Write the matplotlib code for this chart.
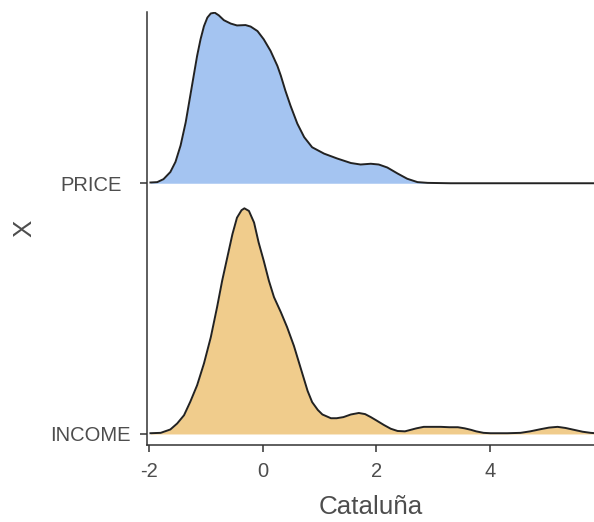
import matplotlib
matplotlib.use("Agg")
import matplotlib.pyplot as plt
import matplotlib.transforms as mtransforms
import numpy as np

plt.rcParams['font.family'] = ['Liberation Sans', 'DejaVu Sans']

# ridge categories (bottom to top)
groups = ["INCOME", "PRICE"]

# density curves
price_x = [-1.97, -1.85, -1.74, -1.62, -1.53, -1.44, -1.35, -1.28, -1.21, -1.15,
           -1.09, -1.03, -0.97, -0.91, -0.84, -0.77, -0.68, -0.56, -0.45, -0.30,
           -0.21, -0.09, 0.02, 0.14, 0.26, 0.32, 0.40, 0.49, 0.61, 0.73,
           0.87, 1.08, 1.31, 1.55, 1.72, 1.90, 2.04, 2.19, 2.37, 2.54,
           2.72, 2.90, 3.30, 5.85]
price_d = [0.002, 0.003, 0.011, 0.030, 0.057, 0.101, 0.163, 0.225, 0.287, 0.340,
           0.384, 0.419, 0.442, 0.453, 0.455, 0.448, 0.435, 0.426, 0.421, 0.422,
           0.418, 0.406, 0.384, 0.353, 0.313, 0.287, 0.247, 0.207, 0.159, 0.123,
           0.096, 0.079, 0.066, 0.054, 0.050, 0.052, 0.050, 0.042, 0.026, 0.012,
           0.003, 0.001, 0.000, 0.000]

income_x = [-1.97, -1.79, -1.62, -1.50, -1.38, -1.27, -1.15, -1.03, -0.91, -0.80,
            -0.71, -0.62, -0.53, -0.45, -0.37, -0.32, -0.24, -0.15, -0.07, 0.02,
            0.11, 0.20, 0.32, 0.43, 0.55, 0.62, 0.70, 0.79, 0.87, 0.97,
            1.05, 1.20, 1.30, 1.42, 1.55, 1.69, 1.80, 1.90, 2.00, 2.13,
            2.25, 2.37, 2.50, 2.60, 2.70, 2.83, 3.00, 3.13, 3.28, 3.43,
            3.55, 3.66, 3.75, 3.88, 4.00, 4.30, 4.53, 4.70, 4.89, 5.03,
            5.18, 5.32, 5.47, 5.62, 5.76, 5.85]
income_d = [0.002, 0.003, 0.012, 0.028, 0.050, 0.086, 0.130, 0.188, 0.258, 0.338,
            0.409, 0.471, 0.533, 0.577, 0.597, 0.602, 0.595, 0.564, 0.511, 0.462,
            0.409, 0.365, 0.325, 0.285, 0.235, 0.200, 0.160, 0.115, 0.085, 0.064,
            0.052, 0.042, 0.042, 0.045, 0.052, 0.056, 0.053, 0.045, 0.036, 0.024,
            0.014, 0.008, 0.007, 0.011, 0.015, 0.019, 0.019, 0.019, 0.018, 0.018,
            0.015, 0.011, 0.007, 0.003, 0.002, 0.002, 0.003, 0.007, 0.013, 0.017,
            0.019, 0.016, 0.011, 0.006, 0.003, 0.002]

colors = {"INCOME": "#F0CC8C", "PRICE": "#A4C4F1"}
curves = {"INCOME": (income_x, income_d), "PRICE": (price_x, price_d)}

scale = 0.9
dmax = max(max(price_d), max(income_d))

fig = plt.figure(figsize=(5.94, 5.22), dpi=100)
ax = fig.add_axes([0.2475, 0.1475, 0.7525, 0.8295])

# draw top ridge first so lower ridges sit on top
for i, g in reversed(list(enumerate(groups))):
    base = i + 1
    x, d = curves[g]
    y = base + np.array(d) / dmax * scale
    ax.fill_between(x, base, y, color=colors[g], linewidth=0, zorder=2 + (1 - i))
    ax.plot(x, y, color="#222222", linewidth=1.4, zorder=3 + (1 - i),
            solid_joinstyle="round")

ax.set_xlim(-2.03, 5.82)
ax.set_ylim(0.956, 2.683)
ax.set_xticks([-2, 0, 2, 4])
ax.set_xticklabels(["-2", "0", "2", "4"])
ax.set_yticks([1, 2])
ax.set_yticklabels(groups)

for side in ["top", "right"]:
    ax.spines[side].set_visible(False)
for side in ["left", "bottom"]:
    ax.spines[side].set_color("#333333")
    ax.spines[side].set_linewidth(1.1)

ax.tick_params(axis="both", length=5, width=1.1, color="#333333",
               labelsize=14.5, labelcolor="#4D4D4D", pad=7)

# the PRICE label sits a little further from its tick
price_lab = ax.get_yticklabels()[1]
price_lab.set_transform(price_lab.get_transform() +
                        mtransforms.ScaledTranslation(-9 / 100, 0, fig.dpi_scale_trans))

ax.set_xlabel("Cataluña", fontsize=18.7, color="#4D4D4D", labelpad=10)
ax.set_ylabel("X", fontsize=18.7, color="#4D4D4D", labelpad=10)

fig.savefig("out.png", dpi=100)
